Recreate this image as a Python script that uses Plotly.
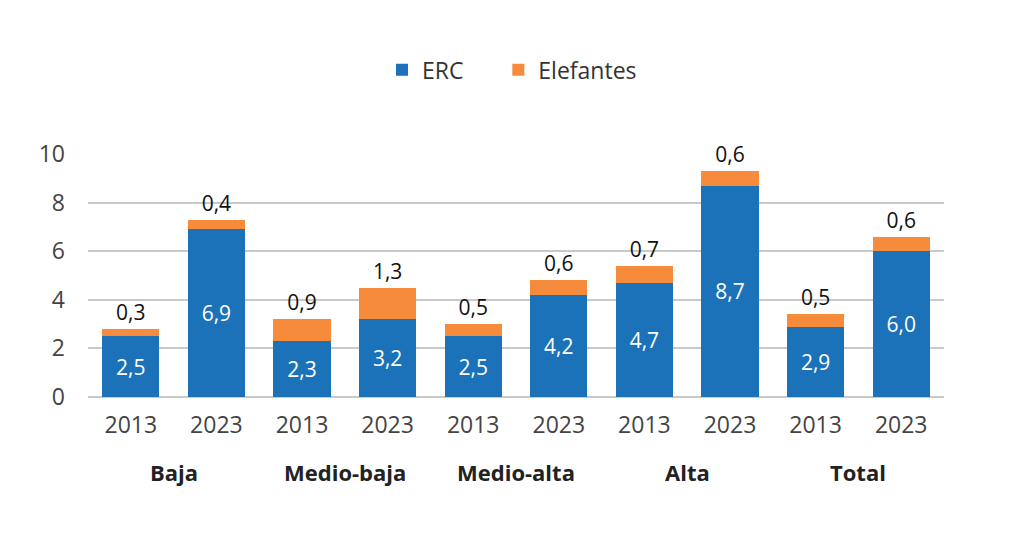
import plotly.graph_objects as go

groups = ["Baja", "Medio-baja", "Medio-alta", "Alta", "Total"]
years = ["2013", "2023"]
series_names = ["ERC", "Elefantes"]
erc = [2.5, 6.9, 2.3, 3.2, 2.5, 4.2, 4.7, 8.7, 2.9, 6.0]
elefantes = [0.3, 0.4, 0.9, 1.3, 0.5, 0.6, 0.7, 0.6, 0.5, 0.6]

cats = [f"{g} {y}" for g in groups for y in years]
ticktext = [y for g in groups for y in years]

def fmt(v):
    return f"{v:.1f}".replace(".", ",")

BLUE = "#1B72B8"
ORANGE = "#F68B3C"
FONT = "Open Sans"
PAD = "&nbsp;" * 5

fig = go.Figure()
fig.add_trace(go.Bar(
    x=cats, y=erc, name=series_names[0] + PAD, marker_color=BLUE, marker_line_width=0,
    text=[fmt(v) for v in erc], textposition="inside", insidetextanchor="middle",
    textfont=dict(color="white", size=21, family=FONT, weight=500), textangle=0,
))
fig.add_trace(go.Bar(
    x=cats, y=elefantes, name=series_names[1], marker_color=ORANGE, marker_line_width=0,
    text=[fmt(v) for v in elefantes], textposition="outside",
    textfont=dict(color="#111111", size=21, family=FONT, weight=500), textangle=0,
    cliponaxis=False,
))

for i, g in enumerate(groups):
    fig.add_annotation(
        x=2 * i + 0.5, y=0, xref="x", yref="paper", yshift=-75,
        text=f"<b>{g}</b>", showarrow=False, yanchor="middle",
        font=dict(size=22, color="#222222", family=FONT, weight=600),
    )

fig.update_layout(
    width=1024, height=558,
    barmode="stack", bargap=0.33,
    plot_bgcolor="white", paper_bgcolor="white",
    margin=dict(l=88, r=80, t=154, b=161),
    font=dict(family=FONT, color="#333333"),
    legend=dict(
        orientation="h", x=0.5, xanchor="center", xref="container",
        y=0.875, yanchor="middle", yref="container",
        font=dict(size=23, color="#333333", family=FONT),
        traceorder="normal",
    ),
    showlegend=True,
)
fig.update_xaxes(
    tickvals=cats, ticktext=ticktext, showgrid=False, showline=False, ticks="",
    tickfont=dict(size=23, color="#444444", family=FONT), ticklabelstandoff=12,
)
fig.update_yaxes(
    range=[0, 10], dtick=2, showgrid=True, gridcolor="#C9C9C9", gridwidth=2,
    zeroline=True, zerolinecolor="#C9C9C9", zerolinewidth=2, showline=False,
    tickfont=dict(size=23, color="#444444", family=FONT), ticklabelstandoff=22,
)

fig.write_html("out.html")
